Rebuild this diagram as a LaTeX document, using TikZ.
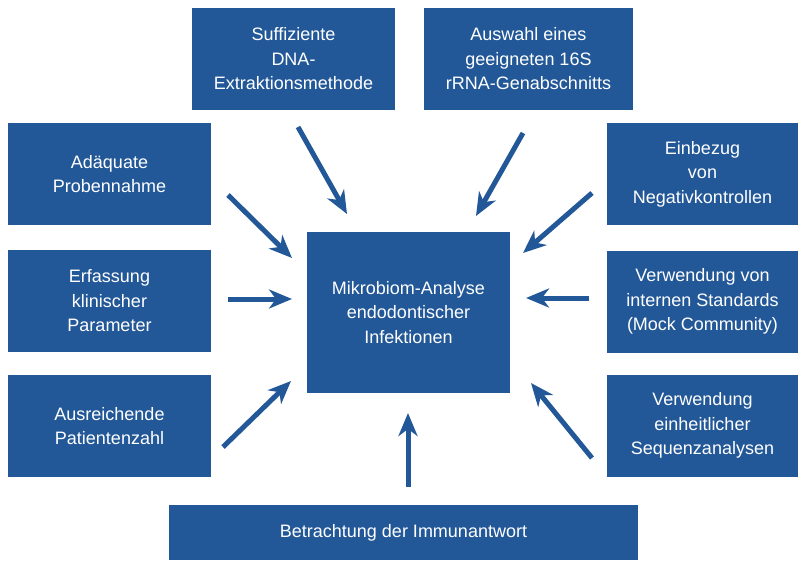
\documentclass[tikz,border=0pt]{standalone}
\usepackage{fontspec}
\setmainfont{Liberation Sans}
\usetikzlibrary{arrows.meta}

\definecolor{boxblue}{RGB}{35,88,152}

\tikzset{
    factor/.style={rectangle, fill=boxblue, text=white, inner sep=0pt,
        align=center, minimum height=102pt,
        font=\fontsize{18}{24.5}\selectfont},
    influx/.style={draw=boxblue, line width=5pt,
        -{Stealth[length=23pt, width=19pt, inset=7pt]}}
}

\begin{document}
\begin{tikzpicture}[x=1pt, y=-1pt]
            \useasboundingbox (0,0) rectangle (798,560);

            % Zentrum
            \node[factor, minimum width=203pt, minimum height=161pt] (mikro) at (408.5,312.5)
                {Mikrobiom-Analyse\\endodontischer\\Infektionen};

            % Oben
            \node[factor, minimum width=203pt] (dna) at (293.5,59)
                {Suffiziente\\DNA-\\Extraktionsmethode};
            \node[factor, minimum width=209pt] (rrna) at (528.5,59)
                {Auswahl eines\\geeigneten 16S\\rRNA-Genabschnitts};

            % Links
            \node[factor, minimum width=203pt] (probe) at (109.5,174)
                {Adäquate\\Probennahme};
            \node[factor, minimum width=203pt] (klinik) at (109.5,301)
                {Erfassung\\klinischer\\Parameter};
            \node[factor, minimum width=203pt] (patient) at (109.5,426)
                {Ausreichende\\Patientenzahl};

            % Rechts
            \node[factor, minimum width=191pt] (negativ) at (702.5,174)
                {Einbezug\\von\\Negativkontrollen};
            \node[factor, minimum width=191pt] (mock) at (702.5,301.5)
                {Verwendung von\\internen Standards\\(Mock Community)};
            \node[factor, minimum width=191pt] (sequenz) at (702.5,425.5)
                {Verwendung\\einheitlicher\\Sequenzanalysen};

            % Unten
            \node[factor, minimum width=469pt, minimum height=55pt] (immun) at (403.5,532.5)
                {Betrachtung der Immunantwort};

            % Pfeile
            \coordinate (dna-a) at (298,127);     \coordinate (dna-b) at (347,214);
            \coordinate (rrna-a) at (523,133);    \coordinate (rrna-b) at (476,216);
            \coordinate (probe-a) at (228,195);   \coordinate (probe-b) at (292,258);
            \coordinate (klinik-a) at (228,299);  \coordinate (klinik-b) at (292,299);
            \coordinate (patient-a) at (223,447); \coordinate (patient-b) at (291,381);
            \coordinate (negativ-a) at (592,193); \coordinate (negativ-b) at (523,253);
            \coordinate (mock-a) at (589,298);    \coordinate (mock-b) at (526,298);
            \coordinate (sequenz-a) at (592,458); \coordinate (sequenz-b) at (531,383);
            \coordinate (immun-a) at (408,487);   \coordinate (immun-b) at (408,413);

            \foreach \src in {dna,rrna,probe,klinik,patient,negativ,mock,sequenz,immun}
                \draw[influx] (\src-a) -- (\src-b);

\end{tikzpicture}
\end{document}
